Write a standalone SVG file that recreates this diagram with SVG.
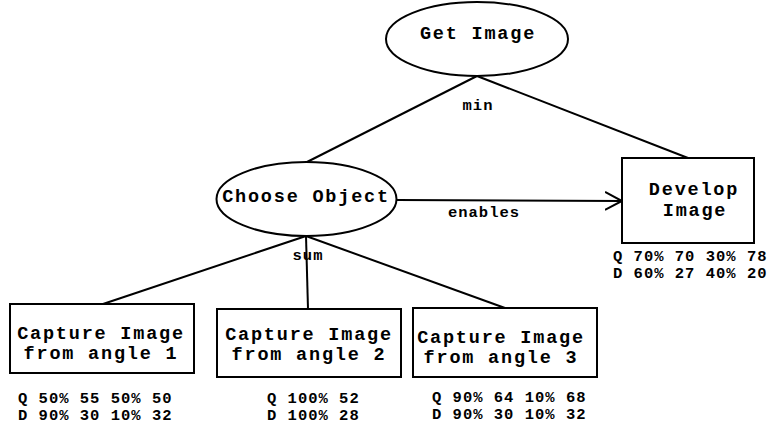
<svg xmlns="http://www.w3.org/2000/svg" width="769" height="430" viewBox="0 0 769 430">
<defs>
<style>
.shape{fill:#fff;stroke:#000;stroke-width:2}
.edge{fill:none;stroke:#000;stroke-width:2}
.t{font-family:"Liberation Mono","Courier New",monospace;font-weight:bold;font-size:18.5px;letter-spacing:1.8px;fill:#000;text-anchor:middle}
.s{font-family:"Liberation Mono","Courier New",monospace;font-weight:bold;font-size:15.5px;letter-spacing:1px;fill:#000}
.l{font-family:"Liberation Mono","Courier New",monospace;font-weight:bold;font-size:15.5px;letter-spacing:1px;fill:#000;text-anchor:middle}
</style>
<marker id="open" markerWidth="20" markerHeight="22" refX="17" refY="10" orient="auto" markerUnits="userSpaceOnUse">
<path d="M0,1 L17,10 L0,19" fill="none" stroke="#000" stroke-width="2"/>
</marker>
</defs>
<rect width="769" height="430" fill="#fff"/>
<g id="connectors">
<line class="edge" x1="477" y1="76" x2="307" y2="162"/>
<line class="edge" x1="477" y1="76" x2="688" y2="158"/>
<line class="edge" x1="397" y1="200" x2="622" y2="201" marker-end="url(#open)"/>
<line class="edge" x1="306" y1="236" x2="103" y2="304"/>
<line class="edge" x1="306" y1="236" x2="308" y2="309"/>
<line class="edge" x1="306" y1="236" x2="505" y2="308"/>
<text class="l" x="478" y="110">min</text>
<text class="l" x="484" y="217">enables</text>
<text class="l" x="308" y="260">sum</text>
</g>
<g id="get-image">
<ellipse class="shape" cx="477" cy="39" rx="91" ry="37"/>
<text class="t" x="478" y="39">Get Image</text>
</g>
<g id="choose-object">
<ellipse class="shape" cx="306.5" cy="199" rx="90" ry="37"/>
<text class="t" x="306" y="202">Choose Object</text>
</g>
<g id="develop-image">
<rect class="shape" x="622" y="158" width="132" height="85"/>
<text class="t" x="694" y="195">Develop</text>
<text class="t" x="695" y="216">Image</text>
<text class="s" x="613" y="261">Q 70% 70 30% 78</text>
<text class="s" x="613" y="278">D 60% 27 40% 20</text>
</g>
<g id="capture-1">
<rect class="shape" x="10" y="304" width="184" height="69"/>
<text class="t" x="101" y="339">Capture Image</text>
<text class="t" x="101" y="359">from angle 1</text>
<text class="s" x="18" y="403">Q 50% 55 50% 50</text>
<text class="s" x="18" y="420">D 90% 30 10% 32</text>
</g>
<g id="capture-2">
<rect class="shape" x="217" y="309" width="184" height="68"/>
<text class="t" x="309" y="340">Capture Image</text>
<text class="t" x="309" y="360">from angle 2</text>
<text class="s" x="267" y="403">Q 100% 52</text>
<text class="s" x="267" y="420">D 100% 28</text>
</g>
<g id="capture-3">
<rect class="shape" x="413" y="308" width="184" height="69"/>
<text class="t" x="501" y="343">Capture Image</text>
<text class="t" x="501" y="363">from angle 3</text>
<text class="s" x="432" y="402">Q 90% 64 10% 68</text>
<text class="s" x="432" y="419">D 90% 30 10% 32</text>
</g>
</svg>
